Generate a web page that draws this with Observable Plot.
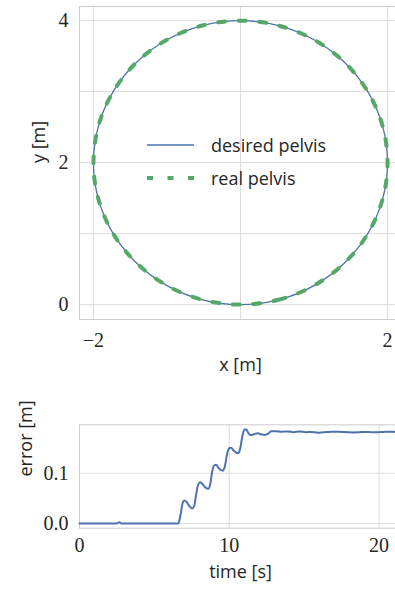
<!DOCTYPE html>
<html>
<head>
<meta charset="utf-8">
<script src="https://cdn.jsdelivr.net/npm/d3@7"></script>
<script src="https://cdn.jsdelivr.net/npm/@observablehq/plot@0.6"></script>
<style>
  html, body { margin: 0; padding: 0; background: #fff; overflow: hidden; }
  #wrap { position: relative; width: 395px; height: 589px; overflow: hidden; }
  #top, #bottom { position: absolute; left: 0; width: 410px; }
  #top { top: 0; }
  #bottom { top: 380px; }
  #wrap svg { max-width: none !important; }
  #legend { position: absolute; left: 146px; top: 128px; font-family: "Open Sans", sans-serif; font-size: 18px; color: #262626; }
  .row { display: flex; align-items: center; height: 33px; }
  .row svg { width: 50px; height: 10px; margin-right: 15px; }
</style>
</head>
<body>
<div id="wrap">
  <div id="top"></div>
  <div id="bottom"></div>
  <div id="legend"></div>
</div>
<script>
// ---- data: circle trajectory (x [m], y [m]) ----
const desiredX = [0, 0.518, 1.0, 1.414, 1.732, 1.932, 2.0, 1.932, 1.732, 1.414, 1.0, 0.518, 0, -0.518, -1.0, -1.414, -1.732, -1.932, -2.0, -1.932, -1.732, -1.414, -1.0, -0.518];
const desiredY = [0, 0.068, 0.268, 0.586, 1.0, 1.482, 2.0, 2.518, 3.0, 3.414, 3.732, 3.932, 4.0, 3.932, 3.732, 3.414, 3.0, 2.518, 2.0, 1.482, 1.0, 0.586, 0.268, 0.068];
const realX = [0, 0.518, 1.0, 1.414, 1.732, 1.932, 2.0, 1.932, 1.732, 1.414, 1.0, 0.518, 0, -0.518, -1.0, -1.414, -1.732, -1.932, -2.0, -1.932, -1.732, -1.414, -1.0, -0.518];
const realY = [0, 0.068, 0.268, 0.586, 1.0, 1.482, 2.0, 2.518, 3.0, 3.414, 3.732, 3.932, 4.0, 3.932, 3.732, 3.414, 3.0, 2.518, 2.0, 1.482, 1.0, 0.586, 0.268, 0.068];

// ---- data: tracking error over time ----
const time = [0, 2.5, 2.65, 2.8, 6.6, 6.75, 6.88, 7.0, 7.15, 7.35, 7.52, 7.65, 7.8, 7.93, 8.05, 8.2, 8.4, 8.6, 8.72, 8.85, 9.0, 9.12, 9.3, 9.55, 9.7, 9.85, 10.0, 10.12, 10.3, 10.6, 10.72, 10.88, 11.02, 11.15, 11.3, 11.45, 11.65, 11.9, 12.1, 12.35, 12.6, 12.8, 13.1, 13.5, 13.9, 14.3, 14.7, 15.1, 15.5, 15.9, 16.3, 16.7, 17.1, 17.5, 17.9, 18.3, 18.7, 19.1, 19.5, 19.9, 20.3, 20.7, 21.1, 21.5];
const error = [0, 0, 0.0025, 0, 0, 0.018, 0.040, 0.046, 0.043, 0.034, 0.030, 0.034, 0.060, 0.078, 0.082, 0.079, 0.072, 0.069, 0.077, 0.102, 0.116, 0.117, 0.110, 0.105, 0.113, 0.138, 0.150, 0.151, 0.145, 0.140, 0.148, 0.175, 0.188, 0.187, 0.179, 0.176, 0.178, 0.180, 0.178, 0.1765, 0.179, 0.184, 0.184, 0.183, 0.1835, 0.182, 0.1835, 0.182, 0.1825, 0.181, 0.182, 0.1825, 0.183, 0.1825, 0.182, 0.1815, 0.182, 0.1825, 0.182, 0.182, 0.1825, 0.183, 0.1825, 0.182];

// ---- ticks ----
const topXTickLabels = [-2, 2];
const topXGrid = [-2, 0, 2];
const topYTickLabels = [0, 2, 4];
const topYGrid = [0, 1, 2, 3, 4];
const botXTicks = [0, 10, 20];
const botYTicks = [0, 0.1];

const seriesNames = ["desired pelvis", "real pelvis"];

const BLUE = "#4C72B0", GREEN = "#55A868", GRID = "#dcdcdc", FRAME = "#cccccc", INK = "#262626";
const SANS = "Open Sans, sans-serif";

const desired = desiredX.map((x, i) => ({x, y: desiredY[i]}));
const real = realX.map((x, i) => ({x, y: realY[i]}));
const err = time.map((t, i) => ({t, e: error[i]}));

const fmtMinus = d => (d < 0 ? "\u2212" + Math.abs(d) : String(d));

const topPlot = Plot.plot({
  width: 410, height: 380,
  marginLeft: 79, marginRight: 9, marginTop: 6, marginBottom: 61,
  style: {fontFamily: "Liberation Serif, serif", fontSize: "20px", color: INK, background: "transparent", maxWidth: "none"},
  x: {domain: [-2.19, 2.19]},
  y: {domain: [-0.21, 4.2]},
  marks: [
    Plot.gridX({ticks: topXGrid, stroke: GRID, strokeOpacity: 1}),
    Plot.gridY({ticks: topYGrid, stroke: GRID, strokeOpacity: 1}),
    Plot.frame({stroke: FRAME}),
    Plot.axisX({ticks: topXTickLabels, tickSize: 0, tickPadding: 13, tickFormat: fmtMinus, label: null}),
    Plot.axisY({ticks: topYTickLabels, tickSize: 0, tickPadding: 11, tickFormat: fmtMinus, label: null}),
    Plot.line(desired, {x: "x", y: "y", curve: "catmull-rom-closed", stroke: BLUE, strokeWidth: 1.3}),
    Plot.line(real, {x: "x", y: "y", curve: "catmull-rom-closed", stroke: GREEN, strokeWidth: 4, strokeDasharray: "7,13.5"}),
    Plot.text(["x [m]"], {frameAnchor: "bottom", dy: 51, fontFamily: SANS, fontSize: 18, fill: INK}),
    Plot.text(["y [m]"], {frameAnchor: "left", dx: -40, rotate: -90, fontFamily: SANS, fontSize: 18, fill: INK})
  ]
});
document.getElementById("top").appendChild(topPlot);

const botPlot = Plot.plot({
  width: 410, height: 209,
  marginLeft: 79, marginRight: 9, marginTop: 44.3, marginBottom: 61.3,
  style: {fontFamily: "Liberation Serif, serif", fontSize: "20px", color: INK, background: "transparent", maxWidth: "none"},
  x: {domain: [0, 21.5]},
  y: {domain: [-0.0094, 0.1967]},
  marks: [
    Plot.gridX({ticks: botXTicks, stroke: GRID, strokeOpacity: 1}),
    Plot.gridY({ticks: botYTicks, stroke: GRID, strokeOpacity: 1}),
    Plot.frame({stroke: FRAME}),
    Plot.axisX({ticks: botXTicks, tickSize: 0, tickPadding: 10, label: null}),
    Plot.axisY({ticks: botYTicks, tickSize: 0, tickPadding: 11, tickFormat: d3.format(".1f"), label: null}),
    Plot.line(err, {x: "t", y: "e", curve: "monotone-x", stroke: BLUE, strokeWidth: 2}),
    Plot.text(["time [s]"], {frameAnchor: "bottom", dy: 50, fontFamily: SANS, fontSize: 18, fill: INK}),
    Plot.text(["error [m]"], {frameAnchor: "left", dx: -53, rotate: -90, fontFamily: SANS, fontSize: 18, fill: INK})
  ]
});
document.getElementById("bottom").appendChild(botPlot);

// legend
const legend = document.getElementById("legend");
const styles = [
  {stroke: BLUE, width: 1.3, dash: null},
  {stroke: GREEN, width: 4, dash: "6,14.5"}
];
seriesNames.forEach((name, i) => {
  const row = document.createElement("div");
  row.className = "row";
  const s = styles[i];
  row.innerHTML = `<svg viewBox="0 0 50 10"><line x1="1" x2="48" y1="5" y2="5" stroke="${s.stroke}" stroke-width="${s.width}" ${s.dash ? `stroke-dasharray="${s.dash}"` : ""}/></svg><span>${name}</span>`;
  legend.appendChild(row);
});
</script>
</body>
</html>
